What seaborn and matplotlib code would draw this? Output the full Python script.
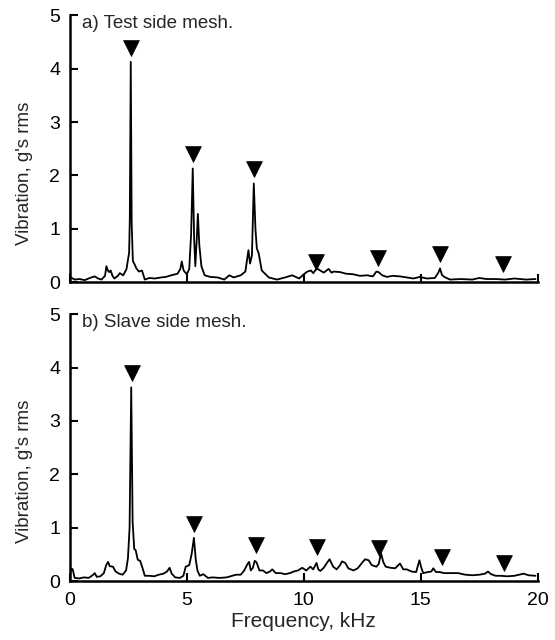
import matplotlib
matplotlib.use("Agg")
import matplotlib.pyplot as plt
import seaborn as sns

# ---- data ----
freq_a = [0.0, 0.2, 0.4, 0.64, 0.85, 1.06, 1.2, 1.35, 1.5, 1.56, 1.62, 1.68, 1.74, 1.82, 1.9,
          2.05, 2.13, 2.28, 2.42, 2.48, 2.53, 2.56, 2.6, 2.64, 2.69, 2.78, 2.84, 2.95, 3.08, 3.2,
          3.4, 3.62, 3.9, 4.1, 4.33, 4.6, 4.72, 4.78, 4.86, 5.0, 5.1, 5.18, 5.25, 5.31, 5.36,
          5.42, 5.47, 5.53, 5.62, 5.76, 6.0, 6.31, 6.6, 6.81, 7.0, 7.3, 7.5, 7.63, 7.7, 7.78,
          7.86, 7.93, 7.99, 8.07, 8.2, 8.5, 8.85, 9.2, 9.5, 9.8, 10.0, 10.15, 10.3, 10.4, 10.55,
          10.7, 10.85, 11.06, 11.18, 11.28, 11.55, 11.8, 12.1, 12.4, 12.7, 12.95, 13.1, 13.19,
          13.35, 13.55, 13.8, 14.1, 14.4, 14.68, 14.96, 15.25, 15.6, 15.75, 15.82, 15.9, 16.0,
          16.25, 16.7, 17.2, 17.5, 17.8, 18.2, 18.6, 19.0, 19.5, 19.9]
vib_a = [0.10, 0.05, 0.06, 0.04, 0.08, 0.11, 0.07, 0.05, 0.12, 0.30, 0.22, 0.19, 0.22, 0.12, 0.07,
         0.12, 0.17, 0.13, 0.25, 0.42, 0.55, 1.20, 4.13, 1.10, 0.40, 0.32, 0.26, 0.20, 0.22, 0.05,
         0.08, 0.07, 0.09, 0.10, 0.13, 0.16, 0.25, 0.39, 0.22, 0.15, 0.25, 0.90, 2.13, 0.80, 0.30,
         0.80, 1.28, 0.70, 0.30, 0.13, 0.10, 0.09, 0.05, 0.13, 0.09, 0.13, 0.20, 0.60, 0.35, 0.50,
         1.85, 1.00, 0.63, 0.54, 0.22, 0.09, 0.05, 0.09, 0.13, 0.07, 0.15, 0.20, 0.22, 0.17, 0.26,
         0.22, 0.18, 0.25, 0.18, 0.20, 0.19, 0.16, 0.15, 0.12, 0.13, 0.11, 0.20, 0.19,
         0.13, 0.10, 0.12, 0.11, 0.09, 0.07, 0.10, 0.07, 0.08, 0.18, 0.26, 0.14, 0.10,
         0.05, 0.06, 0.05, 0.08, 0.06, 0.06, 0.05, 0.07, 0.05, 0.06]

freq_b = [0.0, 0.05, 0.12, 0.2, 0.4, 0.6, 0.8, 1.0, 1.06, 1.15, 1.3, 1.45, 1.55, 1.63, 1.7, 1.84,
          1.95, 2.1, 2.25, 2.4, 2.48, 2.55, 2.62, 2.68, 2.75, 2.81, 2.9, 3.0, 3.1, 3.2, 3.4, 3.6,
          3.8, 4.0, 4.15, 4.26, 4.35, 4.5, 4.7, 4.85, 4.95, 5.1, 5.2, 5.3, 5.38, 5.45, 5.55, 5.7,
          5.9, 6.1, 6.4, 6.7, 6.94, 7.1, 7.3, 7.45, 7.59, 7.66, 7.73, 7.82, 7.9, 7.98, 8.1, 8.25,
          8.4, 8.55, 8.65, 8.8, 9.0, 9.2, 9.4, 9.57, 9.75, 9.93, 10.1, 10.28, 10.4, 10.54, 10.62,
          10.7, 10.85, 11.0, 11.1, 11.25, 11.4, 11.55, 11.63, 11.77, 11.9, 12.12, 12.3, 12.5,
          12.62, 12.77, 12.9, 13.1, 13.2, 13.3, 13.4, 13.5, 13.7, 13.9, 14.11, 14.25, 14.4, 14.6,
          14.8, 14.94, 15.02, 15.1, 15.3, 15.45, 15.53, 15.65, 15.8, 16.0, 16.3, 16.6, 16.9,
          17.2, 17.5, 17.75, 17.87, 18.0, 18.2, 18.4, 18.7, 19.0, 19.2, 19.4, 19.6, 19.9]
vib_b = [0.08, 0.24, 0.22, 0.06, 0.05, 0.07, 0.06, 0.12, 0.15, 0.08, 0.09, 0.15, 0.30, 0.36, 0.28, 0.27,
         0.18, 0.14, 0.12, 0.20, 0.43, 1.00, 3.63, 1.10, 0.60, 0.58, 0.40, 0.38, 0.25, 0.10, 0.10, 0.09,
         0.12, 0.14, 0.18, 0.25, 0.14, 0.07, 0.06, 0.10, 0.27, 0.30, 0.50, 0.81, 0.40, 0.20, 0.10, 0.13,
         0.06, 0.07, 0.06, 0.07, 0.10, 0.12, 0.12, 0.20, 0.32, 0.36, 0.20, 0.25, 0.38, 0.35, 0.20, 0.20,
         0.15, 0.18, 0.22, 0.15, 0.15, 0.13, 0.15, 0.18, 0.20, 0.25, 0.20, 0.27, 0.22, 0.34, 0.22,
         0.19, 0.25, 0.35, 0.41, 0.27, 0.22, 0.30, 0.37, 0.34, 0.24, 0.20, 0.24, 0.35,
         0.41, 0.39, 0.30, 0.27, 0.32, 0.52, 0.35, 0.27, 0.25, 0.24, 0.33, 0.22, 0.22, 0.18,
         0.17, 0.39, 0.25, 0.15, 0.17, 0.18, 0.24, 0.17, 0.17, 0.15, 0.15, 0.15, 0.12,
         0.11, 0.12, 0.14, 0.18, 0.13, 0.10, 0.10, 0.09, 0.10, 0.12, 0.14, 0.11, 0.10]

# mesh-frequency harmonic markers
mark_f_a = [2.60, 5.25, 7.88, 10.52, 13.19, 15.83, 18.51]
mark_y_a = [4.38, 2.40, 2.13, 0.38, 0.45, 0.52, 0.34]
mark_f_b = [2.65, 5.32, 7.94, 10.57, 13.22, 15.89, 18.55]
mark_y_b = [3.90, 1.07, 0.67, 0.63, 0.62, 0.45, 0.34]

titles = ["a) Test side mesh.", "b) Slave side mesh."]
x_ticks = [0, 5, 10, 15, 20]
y_ticks = [0, 1, 2, 3, 4, 5]

sns.set_style("ticks")
plt.rcParams["font.family"] = ["Liberation Sans", "DejaVu Sans"]

fig = plt.figure(figsize=(5.55, 6.4), dpi=100)
ax_a = fig.add_axes([0.126, 0.559, 0.843, 0.417])
ax_b = fig.add_axes([0.126, 0.092, 0.843, 0.417])

panels = [
    (ax_a, freq_a, vib_a, mark_f_a, mark_y_a, titles[0]),
    (ax_b, freq_b, vib_b, mark_f_b, mark_y_b, titles[1]),
]

for ax, f, v, mf, my, title in panels:
    sns.lineplot(x=f, y=v, ax=ax, color="black", lw=1.3, estimator=None, sort=False)
    sns.scatterplot(x=mf, y=my, ax=ax, marker="v", s=130, color="black",
                    edgecolor="black", linewidth=0.5, zorder=3)
    ax.set_xlim(0, 20)
    ax.set_ylim(0, 5)
    ax.set_xticks(x_ticks)
    ax.set_yticks(y_ticks)
    ax.tick_params(direction="in", length=6, width=1.5, labelsize=14, colors="black")
    ax.tick_params(axis="y", pad=7)
    ax.tick_params(axis="x", pad=8)
    for side in ["top", "right"]:
        ax.spines[side].set_visible(False)
    for side in ["left", "bottom"]:
        ax.spines[side].set_linewidth(1.8)
        ax.spines[side].set_color("black")
    ax.set_ylabel("Vibration, g's rms", fontsize=13.5)
    ax.yaxis.set_label_coords(-0.08, 0.41)
    ax.text(0.026, 1.0, title, transform=ax.transAxes, fontsize=13.5, va="top", ha="left")

ax_a.tick_params(axis="x", labelbottom=False)
ax_a.set_xlabel("")
ax_b.set_xlabel("Frequency, kHz", fontsize=15, labelpad=2)

fig.savefig("out.png", dpi=100)
